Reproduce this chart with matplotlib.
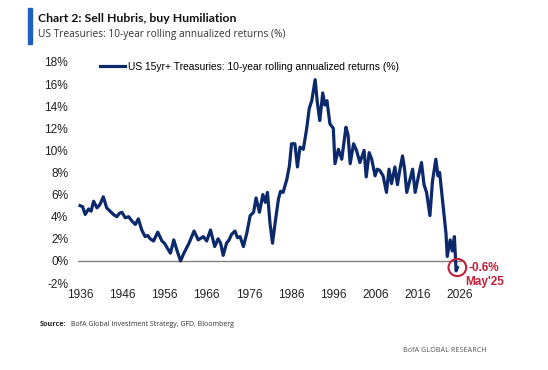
import matplotlib
matplotlib.use("Agg")
from matplotlib import pyplot as plt
from matplotlib.patches import Ellipse, Rectangle

# 10-year rolling annualized returns (%)
years = [1936.0, 1936.6, 1937.2, 1938.0, 1938.6, 1939.2, 1940.0, 1940.7, 1941.5,
         1942.3, 1943.1, 1943.9, 1944.7, 1945.3, 1945.9, 1946.7, 1947.5, 1948.3,
         1949.1, 1949.8, 1950.6, 1951.4, 1952.0, 1952.6, 1953.4, 1954.4, 1955.4,
         1956.0, 1956.6, 1957.4, 1958.2, 1959.0, 1959.8, 1960.6, 1961.8, 1963.0,
         1964.0, 1965.2, 1966.0, 1966.9, 1967.9, 1968.7, 1969.3, 1969.9, 1970.7,
         1971.3, 1971.9, 1972.7, 1973.3, 1973.9, 1974.7, 1975.5, 1976.3, 1977.1,
         1977.7, 1978.5, 1979.3, 1979.9, 1980.4, 1981.0, 1981.6, 1982.2, 1983.0,
         1983.5, 1984.1, 1985.0, 1985.6, 1986.1, 1986.9, 1987.5, 1988.1, 1988.9,
         1989.7, 1990.3, 1990.9, 1991.7, 1992.2, 1992.8, 1993.5, 1994.0, 1994.5,
         1995.2, 1996.0, 1996.4, 1997.2, 1998.0, 1999.0, 1999.5, 2000.0, 2000.8,
         2001.5, 2002.3, 2003.3, 2003.8, 2004.5, 2005.1, 2005.9, 2006.4, 2007.0,
         2007.8, 2008.6, 2009.2, 2009.8, 2010.6, 2011.2, 2011.8, 2012.4, 2012.9,
         2013.4, 2014.2, 2014.8, 2015.4, 2016.2, 2016.9, 2017.5, 2018.1, 2018.9,
         2019.5, 2020.3, 2020.8, 2021.2, 2022.1, 2022.7, 2023.0, 2023.7, 2024.2,
         2024.7, 2025.1, 2025.4]
returns = [5.0, 4.9, 4.2, 4.7, 4.5, 5.4, 4.8, 5.1, 5.8,
           4.8, 4.5, 4.2, 4.0, 4.3, 4.4, 3.9, 4.0, 3.6,
           3.3, 3.8, 2.8, 2.2, 2.3, 2.0, 1.8, 2.6, 1.8,
           1.6, 1.2, 0.7, 1.9, 0.9, 0.0, 0.7, 1.6, 2.7,
           1.9, 2.2, 1.8, 2.8, 1.3, 2.0, 1.6, 0.5, 1.6,
           1.9, 2.4, 2.7, 2.1, 2.2, 1.3, 2.5, 4.1, 4.4,
           5.7, 4.4, 6.0, 5.3, 6.2, 3.4, 1.6, 3.4, 5.6,
           6.3, 6.2, 7.4, 8.6, 10.6, 10.6, 8.5, 10.3, 10.1,
           12.0, 13.8, 14.5, 16.4, 14.4, 12.7, 15.2, 14.1, 14.5,
           12.4, 12.0, 8.8, 10.1, 9.2, 12.1, 11.4, 8.8, 10.6,
           10.0, 8.9, 10.0, 7.6, 9.8, 9.2, 7.7, 8.3, 8.2,
           7.7, 6.2, 8.3, 7.0, 8.5, 6.9, 8.3, 9.5, 8.3,
           6.2, 7.4, 8.3, 6.2, 7.7, 8.9, 6.9, 6.2, 4.1,
           7.2, 9.2, 7.7, 8.0, 4.7, 2.5, 0.4, 1.9, 0.9,
           2.2, -0.9, -0.6]

yticks = list(range(-2, 19, 2))
xticks = list(range(1936, 2027, 10))
navy = '#0c2a6b'
red = '#c0203a'

fig = plt.figure(figsize=(5.48, 3.70), dpi=100)
ax = fig.add_axes([78 / 548, 1 - 283 / 370, 384 / 548, 221 / 370])

ax.plot(years, returns, color=navy, lw=2.3, solid_joinstyle='round',
        label='US 15yr+ Treasuries: 10-year rolling annualized returns (%)')
ax.axhline(0, color='#808080', lw=1.0, zorder=1)

ax.set_xlim(1935.5, 2026.5)
ax.set_ylim(-2, 18)
ax.set_yticks(yticks)
ax.set_yticklabels([f'{t}%' for t in yticks])
ax.set_xticks(xticks)
for s in ax.spines.values():
    s.set_visible(False)
ax.tick_params(length=0, labelsize=8.6, colors='#222222')
ax.tick_params(axis='y', pad=7)
ax.tick_params(axis='x', pad=4)
for lab in ax.get_xticklabels() + ax.get_yticklabels():
    lab.set_family('Liberation Sans')

ax.legend(loc='center left', bbox_to_anchor=(0.057, 0.977), frameon=False,
          borderpad=0, borderaxespad=0, handlelength=2.45, handletextpad=0.25,
          prop={'family': 'Liberation Sans', 'size': 7.4})

# highlight last reading
ax.add_patch(Ellipse((years[-1], returns[-1]), 4.2, 1.55, fill=False,
                     ec=red, lw=1.5, clip_on=False, zorder=5))
ax.text(2028.0, -0.6, '-0.6%', color=red, fontsize=8.5, fontweight='bold',
        family='Liberation Sans', va='center', clip_on=False)
ax.text(2027.3, -1.9, "May'25", color=red, fontsize=8.5, fontweight='bold',
        family='Liberation Sans', va='center', clip_on=False)

# header and footer
fig.patches.append(Rectangle((28 / 548, 1 - 44 / 370), 3.5 / 548, 36 / 370,
                             transform=fig.transFigure, color='#1f5fbf'))
fig.text(38 / 548, 1 - 18 / 370, 'Chart 2: Sell Hubris, buy Humiliation',
         fontsize=8.8, fontweight='bold', family='Lato', va='center',
         color='#111111')
fig.text(38 / 548, 1 - 34 / 370, 'US Treasuries: 10-year rolling annualized returns (%)',
         fontsize=7.3, family='Open Sans', va='center', color='#333333')
fig.text(40 / 548, 1 - 324 / 370, 'Source:', fontsize=5.2, fontweight='bold',
         family='Open Sans', va='center', color='#222222')
fig.text(71 / 548, 1 - 324 / 370, 'BofA Global Investment Strategy, GFD, Bloomberg',
         fontsize=5.0, family='Open Sans', va='center', color='#333333')
fig.text(487 / 548, 1 - 351 / 370, 'BofA GLOBAL RESEARCH', fontsize=5.2,
         family='Open Sans', va='center', ha='right', color='#555555')

fig.savefig('out.png', dpi=100)
